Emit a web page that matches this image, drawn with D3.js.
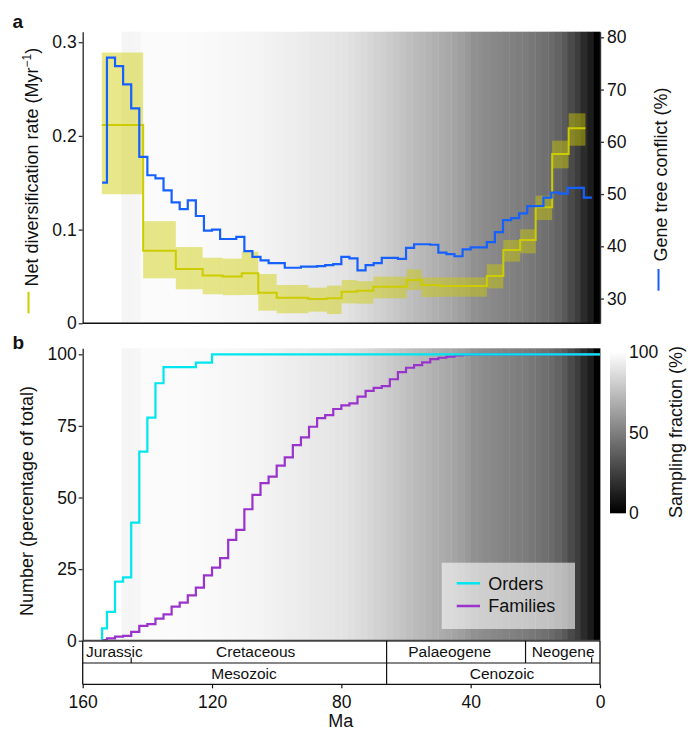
<!DOCTYPE html>
<html><head><meta charset="utf-8">
<script src="https://cdn.jsdelivr.net/npm/d3@7"></script>
<style>
body{margin:0;background:#fff}
svg{display:block}
text{font-family:"Liberation Sans",Arial,Helvetica,sans-serif;fill:#111}
</style>
</head><body>
<svg id="c" width="688" height="731"></svg>
<script>
// ---------------- DATA ----------------
// Sampling fraction (%) in 2-Ma bins (bin edges in Ma, oldest first)
const samplingEdges = [148,146,144,142,140,138,136,134,132,130,128,126,124,122,120,118,116,114,112,110,108,106,104,102,100,98,96,94,92,90,88,86,84,82,80,78,76,74,72,70,68,66,64,62,60,58,56,54,52,50,48,46,44,42,40,38,36,34,32,30,28,26,24,22,20,18,16,14,12,10,8,6,4,2,0];
const samplingFraction = [96.2,96.2,96.5,98.5,98.5,98.5,98.5,98.5,98.3,98.3,98.2,98,98,97.8,97.5,97.3,97,96.8,96.5,96.2,96,95.5,95,94.5,94,93.5,93,92.5,92,91.5,91,90.5,90,89.5,89,88,86.5,85.5,84,82.5,81,79.5,78,76.5,75,73.5,72,70.5,69,67.5,66,64.5,62.5,60,57,55.5,54.5,53.5,52.5,51.5,50.5,49.5,48.5,47,45.5,44,42,39,35,29,24,17,11,0];

// Net diversification rate (Myr^-1): segment edges (Ma), mean, lower, upper
const rateEdges = [154.1,141.3,131.2,122.9,116.7,110.8,105.7,100,90.2,84.5,79.9,75.3,70.1,59.8,55.2,49.5,35,29.9,24.7,19.9,14.8,9.7,4.5];
const rateValue = [0.2116,0.0775,0.058,0.051,0.050,0.0534,0.0327,0.0273,0.026,0.0267,0.0337,0.0348,0.039,0.0462,0.0409,0.0398,0.0505,0.0782,0.0889,0.1238,0.1807,0.2081];
const rateLow   = [0.1377,0.048,0.0363,0.031,0.030,0.0302,0.0135,0.0107,0.0124,0.0099,0.0213,0.021,0.0267,0.0355,0.028,0.0284,0.0373,0.0658,0.0747,0.1102,0.1654,0.1895];
const rateHigh  = [0.289,0.109,0.0814,0.070,0.069,0.0764,0.0526,0.0409,0.038,0.0402,0.0462,0.045,0.0498,0.0576,0.049,0.049,0.063,0.0889,0.1003,0.1362,0.1949,0.2241];

// Gene tree conflict (%): bin edges (Ma) and values
const conflictEdges = [154,152.5,150,147.5,145,142.5,140,137.5,135,132.5,130,127.5,125,122.5,120,117.5,115,112.5,110,107.5,105,102.5,100,97.5,95,92.5,90,87.5,85,82.5,80,77.5,75,72.5,70,67.5,65,62.5,60,57.5,55,52.5,50,47.5,45,42.5,40,37.5,35,32.5,30,27.5,25,22.5,20,17.5,15,12.5,10,7.5,5,2.5];
const conflictValue = [52.2,76.1,74.5,71,66.4,57.1,53.6,53,50.7,48.4,47.1,48.8,45.8,43,43.2,41.4,41.4,41.8,39.1,38,37.3,36.8,36.8,35.9,35.9,36.1,36.1,36.2,36.4,36.6,38,37.7,35.4,36.4,36.8,37.8,37.8,37.6,39.7,40.4,40.4,40.3,38.8,38.5,38.1,39.4,39.8,39.8,40.8,42.7,45,45.4,46.3,47.7,47.7,49.3,50.3,50.1,51.2,51.2,49.3];

// Cumulative number (% of total): orders and families
const orderEdges = [154,152.5,150,147.5,145,142.5,140,137.5,135,125,120,0];
const orderValue = [4.3,10.1,20.6,22.1,41.2,66,77.9,89.9,95.5,97.1,100];
const familyEdges = [154,152.5,150,147.5,145,142.5,140,137.5,135,132.5,130,127.5,125,122.5,120,117.5,115,112.5,110,107.5,105,102.5,100,97.5,95,92.5,90,87.5,85,82.5,80,77.5,75,72.5,70,67.5,65,62.5,60,57.5,55,52.5,50,47.5,45,42.5,40,0];
const familyValue = [0.2,0.8,1.4,1.7,3.1,5.2,5.8,7.7,9.2,11.9,13.3,15.8,18.5,22.8,25.5,28.8,35.2,38.7,45.9,50.9,55,57.3,61.1,64,68.3,71,74.7,77.7,78.8,80.9,82.2,82.9,85.2,87.2,88.3,88.9,91.3,93.8,95.3,96.2,97.2,98.3,98.8,99.2,99.6,99.9,100];

// Geological time scale
const periodNames = ["Jurassic","Cretaceous","Palaeogene","Neogene","Quaternary"];
const periodStart = [201.4,145,66,23.03,2.58];
const periodEnd   = [145,66,23.03,2.58,0];
const periodLabelMa = [159,106.5,46.5,11.4,null];
const eraNames = ["Mesozoic","Cenozoic"];
const eraStart = [251.9,66];
const eraEnd   = [66,0];
const eraLabelMa = [110.1,30.3];

const timeTicks = [160,120,80,40,0];
const rateTicks = [0,0.1,0.2,0.3];
const conflictTicks = [30,40,50,60,70,80];
const numberTicks = [0,25,50,75,100];
const samplingTicks = [0,50,100];

// ---------------- SCALES ----------------
const svg = d3.select("#c");
const x = d3.scaleLinear().domain([160,0]).range([82.7,600]);
const yRate = d3.scaleLinear().domain([0,0.3112]).range([323.3,31.7]);
const yConf = d3.scaleLinear().domain([25.27,81.07]).range([323.3,31.7]);
const yNum = d3.scaleLinear().domain([0,102.1]).range([640.7,348.3]);
const yBar = d3.scaleLinear().domain([0,100]).range([512.7,351.7]);
const gray = d3.scaleLinear().domain([0,100]).range(["#000000","#ffffff"]);

const YELLOW = "#cccc00", BLUE = "#1560ff", CYAN = "#00e6ee", PURPLE = "#9933cc";
const AX = "#333";

// ---------------- BACKGROUND GRADIENT ----------------
function bg(g, y0, y1){
  g.selectAll("rect").data(samplingFraction).join("rect")
    .attr("x",(d,i)=>x(samplingEdges[i]))
    .attr("width",(d,i)=>x(samplingEdges[i+1])-x(samplingEdges[i])+0.4)
    .attr("y",y0).attr("height",y1-y0)
    .attr("fill",d=>gray(d));
}
bg(svg.append("g"), yRate.range()[1], yRate.range()[0]);
bg(svg.append("g"), yNum.range()[1], yNum.range()[0]);

// ---------------- PANEL A ----------------
const segs = rateValue.map((v,i)=>({x0:rateEdges[i],x1:rateEdges[i+1],v,lo:rateLow[i],hi:rateHigh[i]}));
svg.append("g").selectAll("rect").data(segs).join("rect")
  .attr("x",d=>x(d.x0)).attr("width",d=>x(d.x1)-x(d.x0))
  .attr("y",d=>yRate(d.hi)).attr("height",d=>yRate(d.lo)-yRate(d.hi))
  .attr("fill",YELLOW).attr("fill-opacity",0.46);

function stepPts(edges, vals, start0){
  const p = [];
  if(start0) p.push([edges[0],0]);
  vals.forEach((v,i)=>p.push([edges[i],v]));
  p.push([edges[edges.length-1], vals[vals.length-1]]);
  return p;
}
const stepLine = (ys)=>d3.line().x(d=>x(d[0])).y(d=>ys(d[1])).curve(d3.curveStepAfter);

svg.append("path").attr("d",stepLine(yRate)(stepPts(rateEdges,rateValue,false)))
  .attr("fill","none").attr("stroke",YELLOW).attr("stroke-width",2);
svg.append("path").attr("d",stepLine(yConf)(stepPts(conflictEdges,conflictValue,false)))
  .attr("fill","none").attr("stroke",BLUE).attr("stroke-width",2.2);

// axes panel a
const axL = svg.append("g").attr("transform","translate(82.7,0)")
  .call(d3.axisLeft(yRate).tickValues(rateTicks).tickFormat(d=>d===0?"0":d3.format(".1f")(d)).tickSize(4).tickSizeOuter(0).tickPadding(2));
const axR = svg.append("g").attr("transform","translate(600,0)")
  .call(d3.axisRight(yConf).tickValues(conflictTicks).tickSize(4).tickSizeOuter(0).tickPadding(3));
svg.append("line").attr("x1",x(160)).attr("x2",x(0)).attr("y1",yRate(0)).attr("y2",yRate(0))
  .attr("stroke","#111").attr("stroke-width",1.4);

// ---------------- PANEL B ----------------
svg.append("path").attr("d",stepLine(yNum)(stepPts(familyEdges,familyValue,true)))
  .attr("fill","none").attr("stroke",PURPLE).attr("stroke-width",2.2);
svg.append("path").attr("d",stepLine(yNum)(stepPts(orderEdges,orderValue,true)))
  .attr("fill","none").attr("stroke",CYAN).attr("stroke-width",2.2);

const axB = svg.append("g").attr("transform","translate(82.7,0)")
  .call(d3.axisLeft(yNum).tickValues(numberTicks).tickSize(4).tickSizeOuter(0).tickPadding(2));
svg.append("line").attr("x1",x(160)).attr("x2",x(0)).attr("y1",yNum(0)).attr("y2",yNum(0))
  .attr("stroke","#444").attr("stroke-width",2);

[axL,axR,axB].forEach(a=>{
  a.selectAll(".domain").attr("stroke",AX).attr("stroke-width",1.4);
  a.selectAll(".tick line").attr("stroke",AX).attr("stroke-width",1.3);
  a.selectAll(".tick text").attr("font-size",17.5).attr("fill","#111")
    .attr("font-family",'"Liberation Sans",Arial,Helvetica,sans-serif');
});

// legend
const lg = svg.append("g");
lg.append("rect").attr("x",441.7).attr("y",562.7).attr("width",133.3).attr("height",66.3)
  .attr("fill","#ffffff").attr("fill-opacity",0.58);
[["Orders",CYAN,583.3],["Families",PURPLE,606]].forEach(([t,c,yy])=>{
  lg.append("line").attr("x1",456.7).attr("x2",480).attr("y1",yy).attr("y2",yy)
    .attr("stroke",c).attr("stroke-width",2.5);
  lg.append("text").attr("x",488.3).attr("y",yy+6.4).attr("font-size",18).text(t);
});

// colour bar
const defs = svg.append("defs");
const lgd = defs.append("linearGradient").attr("id","cb").attr("gradientUnits","userSpaceOnUse")
  .attr("x1",0).attr("x2",0).attr("y1",yBar(0)).attr("y2",yBar(100));
lgd.append("stop").attr("offset","0%").attr("stop-color",gray(0));
lgd.append("stop").attr("offset","100%").attr("stop-color",gray(100));
svg.append("rect").attr("x",610).attr("y",348.3).attr("width",16).attr("height",513.3-348.3)
  .attr("fill","url(#cb)");
svg.append("g").selectAll("text").data(samplingTicks).join("text")
  .attr("x",629).attr("y",d=>yBar(d)+6.3).attr("font-size",17.5).text(d=>d);

// ---------------- TIME SCALE ----------------
const rowTop = yNum(0), rowMid = 663, rowBot = 684.3;
const ts = svg.append("g");
ts.append("line").attr("x1",x(160)).attr("x2",x(0)).attr("y1",rowMid).attr("y2",rowMid).attr("stroke","#111").attr("stroke-width",1.2);
ts.append("line").attr("x1",x(160)).attr("x2",x(0)).attr("y1",rowBot).attr("y2",rowBot).attr("stroke","#111").attr("stroke-width",1.2);
// period boundaries
periodStart.forEach((s,i)=>{
  if(s>=160) return;
  const full = (s===66 || s===23.03);
  ts.append("line").attr("x1",x(s)).attr("x2",x(s))
    .attr("y1", full? rowTop : rowMid-5.5).attr("y2",rowMid)
    .attr("stroke","#111").attr("stroke-width",1.2);
});
eraStart.forEach(s=>{
  if(s>=160) return;
  ts.append("line").attr("x1",x(s)).attr("x2",x(s)).attr("y1",rowMid).attr("y2",rowBot)
    .attr("stroke","#111").attr("stroke-width",1.2);
});
periodNames.forEach((n,i)=>{
  if(periodLabelMa[i]===null) return;
  ts.append("text").attr("x",x(periodLabelMa[i])).attr("y",657.3)
    .attr("text-anchor", i===0?"start":"middle").attr("font-size",15.5).text(n);
});
eraNames.forEach((n,i)=>{
  ts.append("text").attr("x",x(eraLabelMa[i])).attr("y",679.3)
    .attr("text-anchor","middle").attr("font-size",15.5).text(n);
});
const axT = svg.append("g").attr("transform",`translate(0,${rowBot})`)
  .call(d3.axisBottom(x).tickValues(timeTicks).tickSize(4).tickSizeOuter(0).tickPadding(3));
axT.select(".domain").remove();
axT.selectAll(".tick line").attr("stroke","#111").attr("stroke-width",1.2);
axT.selectAll(".tick text").attr("font-size",17.5).attr("fill","#111").attr("dy",null).attr("y",23.3)
  .attr("font-family",'"Liberation Sans",Arial,Helvetica,sans-serif');
// side borders of time scale
[160,0].forEach(t=>{
  ts.append("line").attr("x1",x(t)).attr("x2",x(t)).attr("y1",rowTop).attr("y2",rowBot)
    .attr("stroke","#111").attr("stroke-width",1.3);
});

// ---------------- TITLES ----------------
svg.append("text").attr("x",340.8).attr("y",726.8).attr("text-anchor","middle").attr("font-size",18).text("Ma");

const tl = svg.append("text").attr("transform","translate(38.3,286.5) rotate(-90)").attr("font-size",18);
tl.append("tspan").text("Net diversification rate (Myr");
tl.append("tspan").attr("font-size",12).attr("dy",-7).text("\u22121");
tl.append("tspan").attr("dy",7).text(")");
svg.append("line").attr("x1",28.5).attr("x2",28.5).attr("y1",291.7).attr("y2",313.3)
  .attr("stroke",YELLOW).attr("stroke-width",2);

svg.append("text").attr("transform","translate(667,261.5) rotate(-90)").attr("font-size",18).text("Gene tree conflict (%)");
svg.append("line").attr("x1",658.5).attr("x2",658.5).attr("y1",269).attr("y2",290.7)
  .attr("stroke",BLUE).attr("stroke-width",2);

svg.append("text").attr("transform","translate(33,501) rotate(-90)").attr("text-anchor","middle")
  .attr("font-size",18).text("Number (percentage of total)");
svg.append("text").attr("transform","translate(681.5,518) rotate(-90)")
  .attr("font-size",18).text("Sampling fraction (%)");

svg.append("text").attr("x",12.5).attr("y",28).attr("font-size",19).attr("font-weight","bold").text("a");
svg.append("text").attr("x",12.5).attr("y",349.3).attr("font-size",19).attr("font-weight","bold").text("b");
</script>
</body></html>
